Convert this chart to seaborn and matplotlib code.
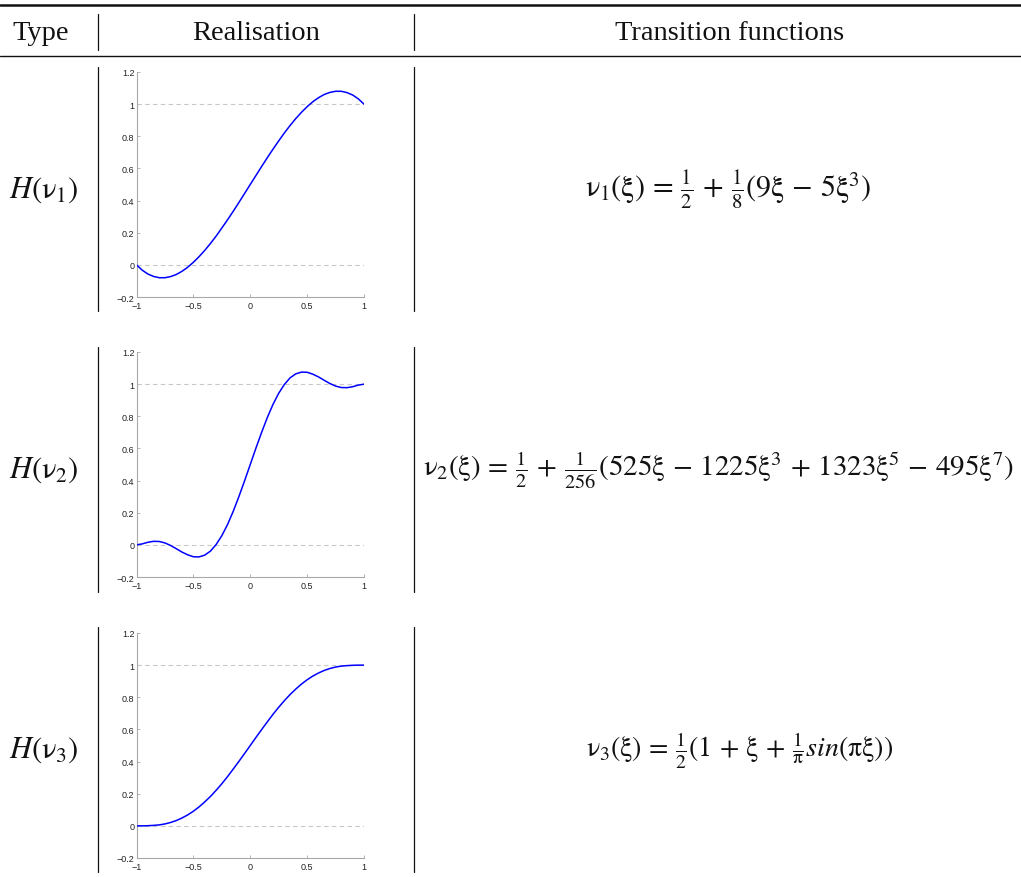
import numpy as np
import pandas as pd
import matplotlib
matplotlib.use("Agg")
import matplotlib.pyplot as plt
import seaborn as sns
from matplotlib.lines import Line2D

# ---------------- data ----------------
xi = [-1.0, -0.95, -0.9, -0.85, -0.8, -0.75, -0.7, -0.65, -0.6, -0.55, -0.5,
      -0.45, -0.4, -0.35, -0.3, -0.25, -0.2, -0.15, -0.1, -0.05, 0.0,
      0.05, 0.1, 0.15, 0.2, 0.25, 0.3, 0.35, 0.4, 0.45, 0.5,
      0.55, 0.6, 0.65, 0.7, 0.75, 0.8, 0.85, 0.9, 0.95, 1.0]

nu1 = [0.0, -0.033, -0.057, -0.072, -0.08, -0.08, -0.073, -0.06, -0.04, -0.015, 0.016,
       0.051, 0.09, 0.133, 0.179, 0.229, 0.28, 0.333, 0.388, 0.444, 0.5,
       0.556, 0.612, 0.667, 0.72, 0.771, 0.821, 0.867, 0.91, 0.949, 0.984,
       1.015, 1.04, 1.06, 1.073, 1.08, 1.08, 1.072, 1.057, 1.033, 1.0]

nu2 = [0.0, 0.006, 0.016, 0.022, 0.021, 0.012, -0.004, -0.024, -0.045, -0.062, -0.074,
       -0.075, -0.064, -0.039, 0.002, 0.057, 0.126, 0.208, 0.3, 0.398, 0.5,
       0.602, 0.7, 0.792, 0.874, 0.943, 0.998, 1.039, 1.064, 1.075, 1.074,
       1.062, 1.045, 1.024, 1.004, 0.988, 0.979, 0.978, 0.984, 0.994, 1.0]

nu3 = [0.0, 0.0, 0.001, 0.003, 0.006, 0.012, 0.021, 0.033, 0.049, 0.068, 0.091,
       0.118, 0.149, 0.183, 0.221, 0.262, 0.306, 0.353, 0.401, 0.45, 0.5,
       0.55, 0.599, 0.647, 0.694, 0.738, 0.779, 0.817, 0.851, 0.882, 0.909,
       0.932, 0.951, 0.967, 0.979, 0.988, 0.994, 0.997, 0.999, 1.0, 1.0]

headers = ["Type", "Realisation", "Transition functions"]
row_labels = [r"$H(\mathrm{\nu}_1)$", r"$H(\mathrm{\nu}_2)$", r"$H(\mathrm{\nu}_3)$"]
formulas = [
    r"$\mathrm{\nu}_1(\mathrm{\xi})\,=\,\frac{1}{2}\,+\,\frac{1}{8}(9\mathrm{\xi}\,-\,5\mathrm{\xi}^3)$",
    r"$\mathrm{\nu}_2(\mathrm{\xi})\,=\,\frac{1}{2}\,+\,\frac{1}{256}(525\mathrm{\xi}\,-\,1225\mathrm{\xi}^3\,+\,1323\mathrm{\xi}^5\,-\,495\mathrm{\xi}^7)$",
    r"$\mathrm{\nu}_3(\mathrm{\xi})\,=\,\frac{1}{2}(1\,+\,\mathrm{\xi}\,+\,\frac{1}{\mathrm{\pi}}sin(\mathrm{\pi\xi}))$",
]
xticks = [-1, -0.5, 0, 0.5, 1]
xticklabels = ["\u22121", "\u22120.5", "0", "0.5", "1"]
yticks = [-0.2, 0, 0.2, 0.4, 0.6, 0.8, 1.0, 1.2]
yticklabels = ["\u22120.2", "0", "0.2", "0.4", "0.6", "0.8", "1", "1.2"]
ref_levels = [0, 1]

# ---------------- style ----------------
sns.set_theme(style="white")
plt.rcParams["font.family"] = ["Liberation Serif", "DejaVu Serif"]
plt.rcParams["mathtext.fontset"] = "stix"

W, H = 1021, 878
fig = plt.figure(figsize=(W / 100, H / 100), dpi=100)

# overlay in pixel coordinates for the table structure
ov = fig.add_axes([0, 0, 1, 1], zorder=0)
ov.set_xlim(0, W)
ov.set_ylim(H, 0)
ov.axis("off")

ink = "#111111"
ov.add_line(Line2D([0, W], [5.5, 5.5], color=ink, lw=1.8))
ov.add_line(Line2D([0, W], [57, 57], color=ink, lw=1.0))
for xv in (98, 414):
    ov.add_line(Line2D([xv, xv], [15, 51], color=ink, lw=0.9))
row_spans = [(68, 312), (348, 593), (628, 873)]
for (y0, y1) in row_spans:
    for xv in (98, 414):
        ov.add_line(Line2D([xv, xv], [y0, y1], color=ink, lw=0.9))

fs = 20.5
ov.text(41, 33, headers[0], ha="center", va="center", fontsize=fs, color=ink)
ov.text(256, 33, headers[1], ha="center", va="center", fontsize=fs, color=ink)
ov.text(730, 33, headers[2], ha="center", va="center", fontsize=fs, color=ink)

formula_x = [728, 423, 740]
formula_fs = [21.6, 20.9, 20.2]
for i, (y0, y1) in enumerate(row_spans):
    yc = (y0 + y1) / 2
    ov.text(44, yc, row_labels[i], ha="center", va="center", fontsize=fs + 1.5, color=ink)
    ov.text(formula_x[i], yc, formulas[i], ha="left" if i == 1 else "center",
            va="center", fontsize=formula_fs[i], color=ink)

# ---------------- small plots ----------------
series = [nu1, nu2, nu3]
ax_left, ax_right = 136.5, 364
plot_tops = [73, 353, 634]
ph = 225
for k, vals in enumerate(series):
    top = plot_tops[k]
    ax = fig.add_axes([ax_left / W, 1 - (top + ph) / H, (ax_right - ax_left) / W, ph / H], zorder=2)
    ax.patch.set_alpha(0)
    for lv in ref_levels:
        ax.plot([-1, 1], [lv, lv], color="#c8c8c8", lw=0.8, ls=(0, (4, 3)), zorder=1)
    df = pd.DataFrame({"xi": xi, "nu": vals})
    sns.lineplot(data=df, x="xi", y="nu", ax=ax, color="#0000ff", lw=1.1, zorder=3)
    ax.set_xlim(-1, 1)
    ax.set_ylim(-0.2, 1.2)
    ax.set_xlabel("")
    ax.set_ylabel("")
    ax.set_xticks(xticks)
    ax.set_xticklabels(xticklabels)
    ax.set_yticks(yticks)
    ax.set_yticklabels(yticklabels)
    for s in ("top", "right"):
        ax.spines[s].set_visible(False)
    for s in ("left", "bottom"):
        ax.spines[s].set_color("#a8a8a8")
        ax.spines[s].set_linewidth(0.8)
    ax.tick_params(direction="in", length=2.5, width=0.6, color="#a8a8a8",
                   labelsize=6.5, labelcolor="#222222",
                   left=True, bottom=True)
    ax.tick_params(axis="y", pad=1.5)
    ax.tick_params(axis="x", pad=2.6)
    for lab in ax.get_xticklabels() + ax.get_yticklabels():
        lab.set_fontfamily(["Liberation Sans", "DejaVu Sans"])

fig.savefig("out.png", dpi=100)
